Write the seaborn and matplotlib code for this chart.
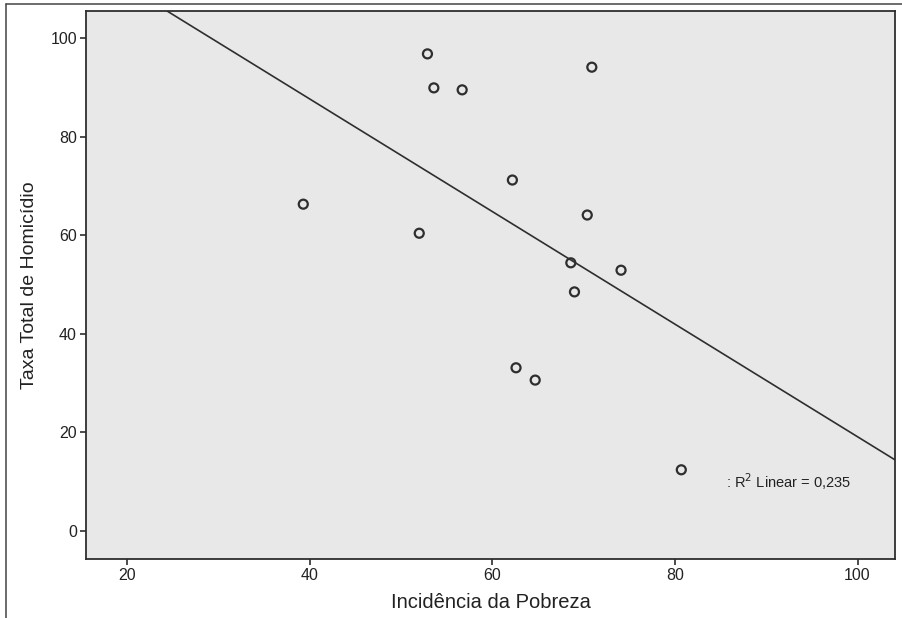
import matplotlib
matplotlib.use("Agg")
import matplotlib.pyplot as plt
from matplotlib.lines import Line2D
import seaborn as sns
import pandas as pd

# Poverty incidence (%) and total homicide rate per municipality
incidencia_pobreza = [52.9, 53.6, 56.7, 70.9, 39.3, 52.0, 62.2,
                      70.4, 68.6, 74.1, 69.0, 62.6, 64.7, 80.7]
taxa_homicidio = [96.8, 89.9, 89.5, 94.1, 66.3, 60.4, 71.2,
                  64.1, 54.4, 52.9, 48.5, 33.1, 30.6, 12.4]

x_ticks = [20, 40, 60, 80, 100]
y_ticks = [0, 20, 40, 60, 80, 100]
r2_label = ": R$^2$ Linear = 0,235"

df = pd.DataFrame({"Incidência da Pobreza": incidencia_pobreza,
                   "Taxa Total de Homicídio": taxa_homicidio})

sns.set_style("white")
plt.rcParams["font.family"] = ["Liberation Sans", "DejaVu Sans"]

fig = plt.figure(figsize=(9.03, 6.18), dpi=100)
ax = fig.add_axes([0.0952, 0.0955, 0.8959, 0.8867])
ax.set_facecolor("#e8e8e8")

xlim = (15.5, 104.1)
ylim = (-5.7, 105.5)
ax.set_xlim(*xlim)
ax.set_ylim(*ylim)

dark = "#2e2e2e"
sns.regplot(data=df, x="Incidência da Pobreza", y="Taxa Total de Homicídio",
            ax=ax, ci=None, truncate=False,
            scatter_kws=dict(facecolors="none", edgecolors=dark, s=42,
                             linewidths=1.6, alpha=1, zorder=3),
            line_kws=dict(color=dark, lw=1.2, zorder=2))

ax.set_xlim(*xlim)
ax.set_ylim(*ylim)
ax.set_xticks(x_ticks)
ax.set_yticks(y_ticks)
ax.tick_params(axis="both", which="major", direction="out", length=4.5,
               width=1.2, color=dark, labelsize=11.5, labelcolor="#222222",
               bottom=True, left=True, top=False, right=False, pad=2)

for side in ["left", "bottom", "top", "right"]:
    ax.spines[side].set_visible(True)
    ax.spines[side].set_color(dark)
    ax.spines[side].set_linewidth(1.3)

ax.set_xlabel("Incidência da Pobreza", fontsize=14.5, color="#222222", labelpad=7)
ax.set_ylabel("Taxa Total de Homicídio", fontsize=14, color="#222222", labelpad=9)

ax.text(85.6, 9.9, r2_label, fontsize=10.5, color="#222222",
        ha="left", va="center")

# Outer frame edges along the left and top of the figure
fig.add_artist(Line2D([6 / 903, 6 / 903], [0, 1 - 4 / 618],
                      transform=fig.transFigure, color="#444444", lw=1.1))
fig.add_artist(Line2D([6 / 903, 1], [1 - 4 / 618, 1 - 4 / 618],
                      transform=fig.transFigure, color="#444444", lw=1.1))

fig.savefig("out.png", dpi=100, facecolor="white")
